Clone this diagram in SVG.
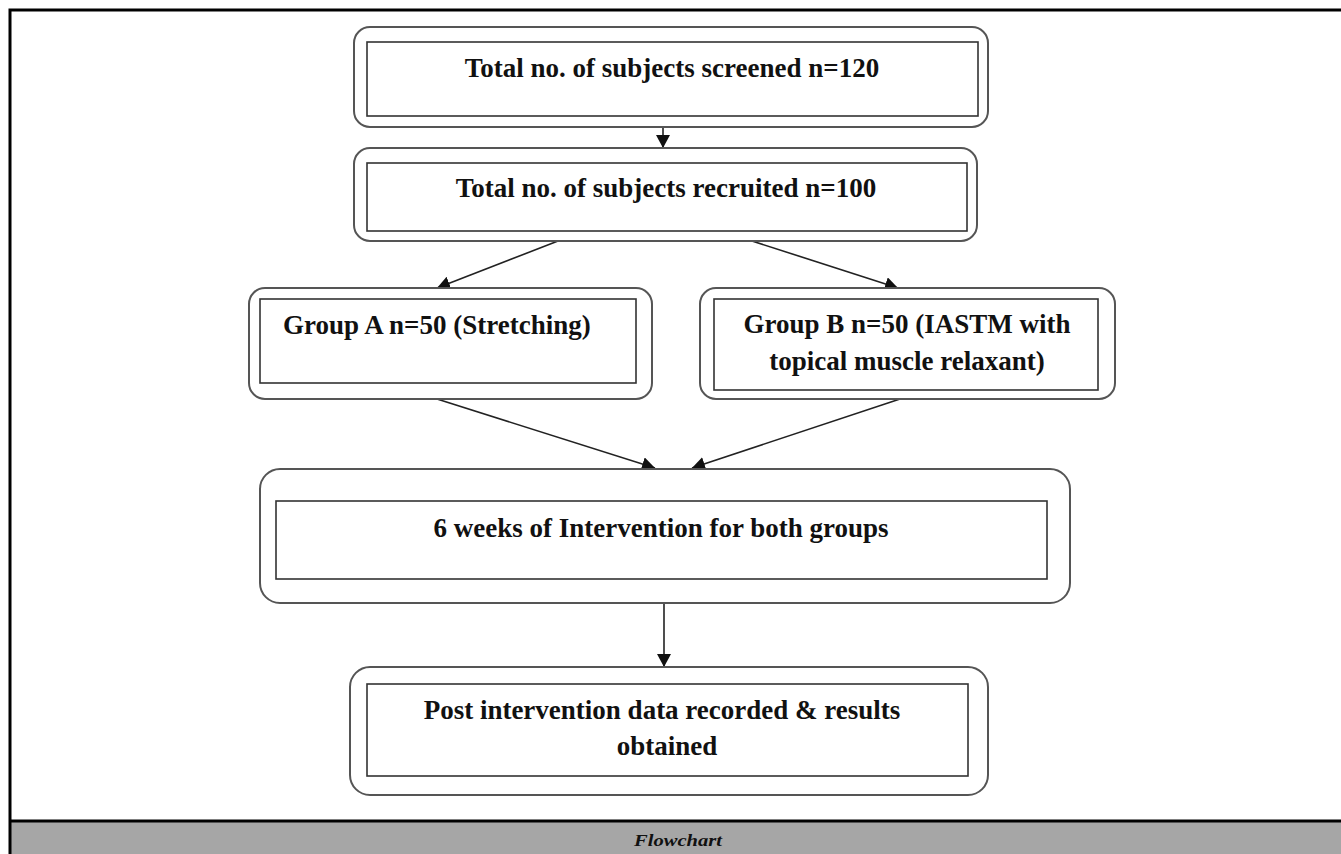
<svg xmlns="http://www.w3.org/2000/svg" width="1341" height="854" viewBox="0 0 1341 854">
<style>
.outer{fill:#fff;stroke:#555;stroke-width:2}
.inner{fill:#fff;stroke:#333;stroke-width:1.6}
.t{font-family:"Liberation Serif","Times New Roman",serif;font-weight:bold;font-size:27px;fill:#111}
.c{stroke:#222;stroke-width:1.6;fill:none;marker-end:url(#ah)}
</style>
<defs>
<marker id="ah" markerUnits="userSpaceOnUse" markerWidth="14" markerHeight="14" refX="13" refY="7" orient="auto">
<path d="M0,0 L13,7 L0,14 z" fill="#111"/>
</marker>
</defs>
<rect x="0" y="0" width="1341" height="854" fill="#fff"/>
<rect x="11" y="822" width="1330" height="32" fill="#a6a6a6"/>
<path d="M10,854 V10 H1341" fill="none" stroke="#000" stroke-width="3"/>
<line x1="10" y1="821" x2="1341" y2="821" stroke="#000" stroke-width="3"/>
<text x="678" y="846" text-anchor="middle" font-family="'Liberation Serif',serif" font-weight="bold" font-style="italic" font-size="17" textLength="88" lengthAdjust="spacingAndGlyphs" fill="#111">Flowchart</text>

<g id="connectors">
<line class="c" x1="663" y1="127" x2="663" y2="148"/>
<line class="c" x1="558" y1="241" x2="437" y2="288"/>
<line class="c" x1="752" y1="241" x2="898" y2="288"/>
<line class="c" x1="437" y1="399" x2="655" y2="468"/>
<line class="c" x1="900" y1="399" x2="692" y2="468"/>
<line class="c" x1="664" y1="603" x2="664" y2="667"/>
</g>

<g id="screened">
<rect class="outer" x="354" y="27" width="634" height="100" rx="16"/>
<rect class="inner" x="367" y="42" width="611" height="74"/>
<text class="t" x="672" y="77" text-anchor="middle">Total no. of subjects screened n=120</text>
</g>

<g id="recruited">
<rect class="outer" x="354" y="148" width="623" height="93" rx="16"/>
<rect class="inner" x="367" y="163" width="600" height="68"/>
<text class="t" x="666" y="197" text-anchor="middle">Total no. of subjects recruited n=100</text>
</g>

<g id="groupA">
<rect class="outer" x="249" y="288" width="403" height="111" rx="16"/>
<rect class="inner" x="260" y="299" width="376" height="84"/>
<text class="t" x="283" y="334">Group A n=50 (Stretching)</text>
</g>

<g id="groupB">
<rect class="outer" x="700" y="288" width="415" height="111" rx="16"/>
<rect class="inner" x="714" y="299" width="384" height="91"/>
<text class="t" x="907" y="333" text-anchor="middle">Group B n=50 (IASTM with</text>
<text class="t" x="907" y="370" text-anchor="middle">topical muscle relaxant)</text>
</g>

<g id="intervention">
<rect class="outer" x="260" y="469" width="810" height="134" rx="20"/>
<rect class="inner" x="276" y="501" width="771" height="78"/>
<text class="t" x="661" y="537" text-anchor="middle">6 weeks of Intervention for both groups</text>
</g>

<g id="post">
<rect class="outer" x="350" y="667" width="638" height="128" rx="20"/>
<rect class="inner" x="367" y="684" width="601" height="92"/>
<text class="t" x="662" y="719" text-anchor="middle">Post intervention data recorded &amp; results</text>
<text class="t" x="667" y="755" text-anchor="middle">obtained</text>
</g>
</svg>
